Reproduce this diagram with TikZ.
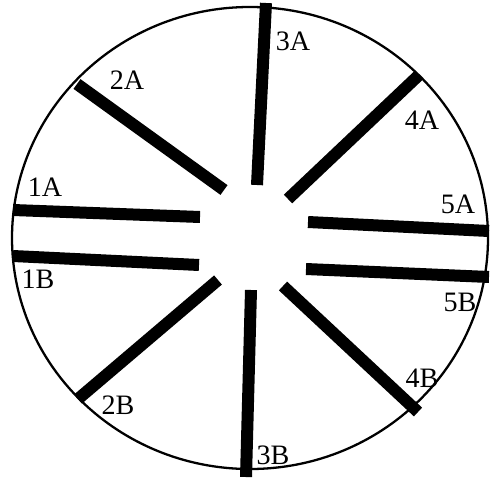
\documentclass[tikz,border=0pt]{standalone}
\usepackage{fontspec}
\setmainfont{Liberation Serif}
\usetikzlibrary{positioning}

\begin{document}
\begin{tikzpicture}[
        x=0.02cm, y=-0.02cm,
        rim/.style={draw=black, line width=1.3pt},
        bar/.style={draw=black, line width=0.24cm},
        tag/.style={font=\fontsize{16}{18}\selectfont, inner sep=0pt}
    ]
        \useasboundingbox (0,0) rectangle (490,477);

        % Rim
        \coordinate (hub) at (250,238);
        \draw[rim] (hub) ellipse [x radius=238, y radius=231];

        % Bars, left side
        \draw[bar] (13,210) -- (200,217);
        \draw[bar] (13,256) -- (199,265);
        \draw[bar] (77,84) -- (224,190);
        \draw[bar] (78,399) -- (218,280);

        % Bars, top and bottom
        \draw[bar] (266,3) -- (257,185);
        \draw[bar] (251,290) -- (246,477);

        % Bars, right side
        \draw[bar] (419,75) -- (288,199);
        \draw[bar] (418,412) -- (283,286);
        \draw[bar] (308,222) -- (489,231);
        \draw[bar] (306,269) -- (489,277);

        % Labels
        \node[tag] (lbl1a) at (45,187) {1A};
        \node[tag] (lbl1b) at (38,279) {1B};
        \node[tag] (lbl2a) at (127,80) {2A};
        \node[tag] (lbl2b) at (118,405) {2B};
        \node[tag] (lbl3a) at (293,41) {3A};
        \node[tag] (lbl3b) at (273,455) {3B};
        \node[tag] (lbl4a) at (422,120) {4A};
        \node[tag] (lbl4b) at (422,378) {4B};
        \node[tag] (lbl5a) at (458,204) {5A};
        \node[tag] (lbl5b) at (460,302) {5B};

    \end{tikzpicture}
\end{document}
